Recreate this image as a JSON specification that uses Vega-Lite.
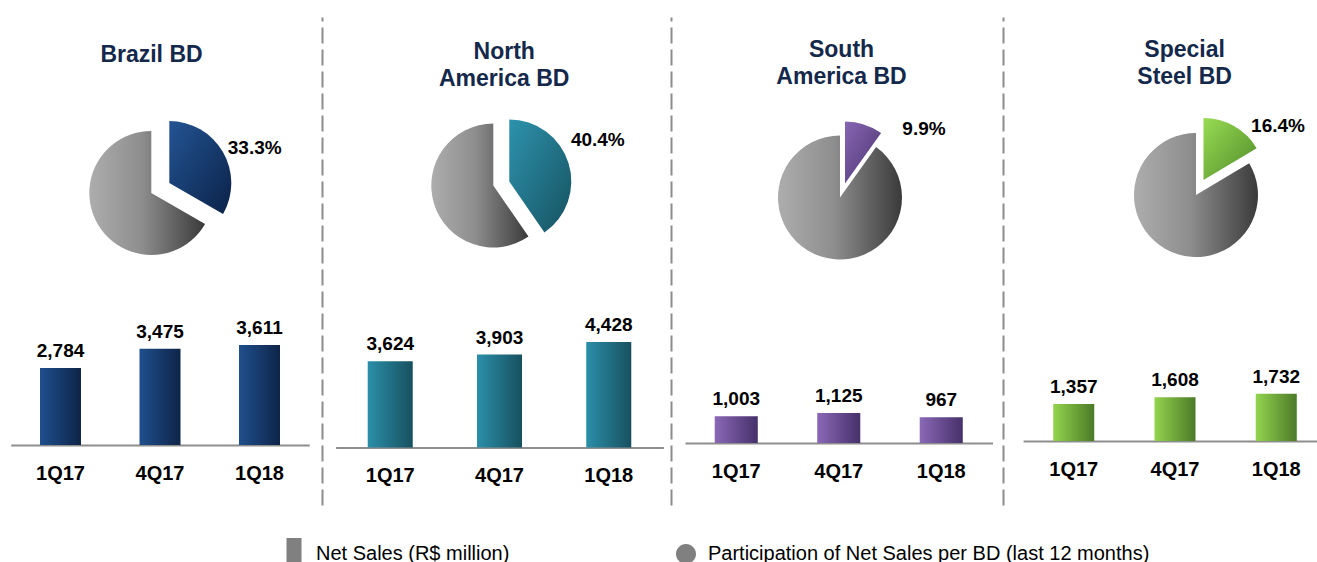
{
  "$schema": "https://vega.github.io/schema/vega-lite/v6.json",
  "padding": {"left": 0, "top": 17, "right": 0, "bottom": 0},
  "bounds": "flush",
  "spacing": 0,
  "config": {"view": {"stroke": null}, "font": "Liberation Sans"},
  "datasets": {
    "sales": [
      {"bd": "Brazil BD", "quarter": "1Q17", "sales": 2784},
      {"bd": "Brazil BD", "quarter": "4Q17", "sales": 3475},
      {"bd": "Brazil BD", "quarter": "1Q18", "sales": 3611},
      {"bd": "North America BD", "quarter": "1Q17", "sales": 3624},
      {"bd": "North America BD", "quarter": "4Q17", "sales": 3903},
      {"bd": "North America BD", "quarter": "1Q18", "sales": 4428},
      {"bd": "South America BD", "quarter": "1Q17", "sales": 1003},
      {"bd": "South America BD", "quarter": "4Q17", "sales": 1125},
      {"bd": "South America BD", "quarter": "1Q18", "sales": 967},
      {"bd": "Special Steel BD", "quarter": "1Q17", "sales": 1357},
      {"bd": "Special Steel BD", "quarter": "4Q17", "sales": 1608},
      {"bd": "Special Steel BD", "quarter": "1Q18", "sales": 1732}
    ],
    "share": [
      {"bd": "Brazil BD", "title": "Brazil BD", "share": 0.333},
      {"bd": "North America BD", "title": "North\nAmerica BD", "share": 0.404},
      {"bd": "South America BD", "title": "South\nAmerica BD", "share": 0.099},
      {"bd": "Special Steel BD", "title": "Special\nSteel BD", "share": 0.164}
    ],
    "legend": [
      {"item": "Net Sales (R$ million)"},
      {"item": "Participation of Net Sales per BD (last 12 months)"}
    ]
  },
  "hconcat": [
    {
      "width": 322, "height": 488,
      "resolve": {"scale": {"x": "independent", "y": "independent"}},
      "layer": [
        {
          "data": {"name": "sales"},
          "transform": [{"filter": "datum.bd === 'Brazil BD'"}],
          "encoding": {
            "x": {"field": "quarter", "type": "nominal", "sort": ["1Q17", "4Q17", "1Q18"],
              "scale": {"range": [10.75, 309.25], "paddingInner": 0.588, "paddingOuter": 0.294},
              "axis": {"title": null, "orient": "bottom", "offset": -60, "ticks": false, "tickSize": 0, "grid": false, "labelAngle": 0, "labelPadding": 18, "labelFontSize": 20, "labelFontWeight": "bold", "labelColor": "#000000", "labelFont": "Liberation Sans", "domainColor": "#8e8e8e", "domainWidth": 2}},
            "y": {"field": "sales", "type": "quantitative", "scale": {"domain": [-2169, 15472], "nice": false, "zero": false}, "axis": null}
          },
          "layer": [
            {"mark": {"type": "bar", "color": {"gradient": "linear", "x1": 0, "y1": 0, "x2": 1, "y2": 0, "stops": [{"offset": 0, "color": "#1f4f8d"}, {"offset": 1, "color": "#0e2448"}]}}},
            {"mark": {"type": "text", "baseline": "alphabetic", "dy": -11, "fontSize": 19, "fontWeight": "bold", "color": "#000000"},
             "encoding": {"text": {"field": "sales", "type": "quantitative", "format": ","}}}
          ]
        },
        {
          "data": {"name": "share"},
          "transform": [{"filter": "datum.bd === 'Brazil BD'"}],
          "layer": [
            {"mark": {"type": "arc", "outerRadius": 62, "color": {"gradient": "linear", "x1": 0, "y1": 0, "x2": 1, "y2": 0, "stops": [{"offset": 0, "color": "#adadad"}, {"offset": 0.45, "color": "#8e8e8e"}, {"offset": 1, "color": "#3a3a3a"}]}},
             "encoding": {
               "x": {"datum": 0.4699, "type": "quantitative", "scale": {"domain": [0, 1], "nice": false}, "axis": null},
               "y": {"datum": 0.6393, "type": "quantitative", "scale": {"domain": [0, 1], "nice": false}, "axis": null},
               "theta": {"field": "share", "type": "quantitative", "stack": null, "scale": {"domain": [0, 1]}},
               "theta2": {"datum": 1}}},
            {"mark": {"type": "arc", "outerRadius": 62, "xOffset": 18, "yOffset": -10, "color": {"gradient": "linear", "x1": 0, "y1": 0, "x2": 1, "y2": 1, "stops": [{"offset": 0, "color": "#235493"}, {"offset": 1, "color": "#0b2248"}]}},
             "encoding": {
               "x": {"datum": 0.4699, "type": "quantitative"},
               "y": {"datum": 0.6393, "type": "quantitative"},
               "theta": {"field": "share", "type": "quantitative", "stack": null},
               "theta2": {"datum": 0}}},
            {"mark": {"type": "text", "align": "center", "baseline": "middle", "fontSize": 19, "fontWeight": "bold", "color": "#000000"},
             "encoding": {
               "x": {"datum": 0.791, "type": "quantitative"},
               "y": {"datum": 0.7316, "type": "quantitative"},
               "text": {"field": "share", "type": "quantitative", "format": ".1%"}}},
            {"mark": {"type": "text", "align": "center", "baseline": "top", "lineBreak": "\n", "lineHeight": 27, "fontSize": 23, "fontWeight": "bold", "color": "#14284b"},
             "encoding": {
               "x": {"datum": 0.4705, "type": "quantitative"},
               "y": {"datum": 0.9447, "type": "quantitative"},
               "text": {"field": "title", "type": "nominal"}}}
          ]
        },
        {
          "data": {"name": "legend"},
          "mark": {"type": "point", "filled": true, "color": "#808080", "opacity": 0},
          "encoding": {
            "shape": {"field": "item", "type": "nominal",
              "scale": {"domain": ["Net Sales (R$ million)", "Participation of Net Sales per BD (last 12 months)"],
                        "range": ["M-0.375,-0.8 L0.375,-0.8 L0.375,0.8 L-0.375,0.8 Z", "M0,-0.8 L0,-0.8 M0,0.8 L0,0.8 M-0.5,0 A0.5,0.5 0 1,1 0.5,0 A0.5,0.5 0 1,1 -0.5,0 Z"]},
              "legend": {"title": null, "orient": "none", "legendX": 274, "legendY": 517, "direction": "horizontal", "symbolSize": 1600, "symbolFillColor": "#808080", "symbolStrokeWidth": 0, "symbolOpacity": 1, "labelFontSize": 20, "labelFont": "Liberation Sans", "labelColor": "#000000", "labelLimit": 1000, "labelOffset": 2, "columnPadding": 156, "padding": 0}}
          }
        }
      ]
    },
    {
      "width": 349, "height": 488,
      "resolve": {"scale": {"x": "independent", "y": "independent"}},
      "layer": [
        {
          "data": {"name": "sales"},
          "transform": [{"filter": "datum.bd === 'North America BD'"}],
          "encoding": {
            "x": {"field": "quarter", "type": "nominal", "sort": ["1Q17", "4Q17", "1Q18"],
              "scale": {"range": [13.6, 341.4], "paddingInner": 0.588, "paddingOuter": 0.294},
              "axis": {"title": null, "orient": "bottom", "offset": -57.5, "ticks": false, "tickSize": 0, "grid": false, "labelAngle": 0, "labelPadding": 18, "labelFontSize": 20, "labelFontWeight": "bold", "labelColor": "#000000", "labelFont": "Liberation Sans", "domainColor": "#8e8e8e", "domainWidth": 2}},
            "y": {"field": "sales", "type": "quantitative", "scale": {"domain": [-2415, 18081], "nice": false, "zero": false},
              "axis": {"orient": "left", "title": null, "labels": false, "ticks": false, "grid": false, "domainDash": [16, 6], "domainColor": "#8c8c8c", "domainWidth": 2}}
          },
          "layer": [
            {"mark": {"type": "bar", "color": {"gradient": "linear", "x1": 0, "y1": 0, "x2": 1, "y2": 0, "stops": [{"offset": 0, "color": "#2b8fa9"}, {"offset": 1, "color": "#17505f"}]}}},
            {"mark": {"type": "text", "baseline": "alphabetic", "dy": -11, "fontSize": 19, "fontWeight": "bold", "color": "#000000"},
             "encoding": {"text": {"field": "sales", "type": "quantitative", "format": ","}}}
          ]
        },
        {
          "data": {"name": "share"},
          "transform": [{"filter": "datum.bd === 'North America BD'"}],
          "layer": [
            {"mark": {"type": "arc", "outerRadius": 62, "color": {"gradient": "linear", "x1": 0, "y1": 0, "x2": 1, "y2": 0, "stops": [{"offset": 0, "color": "#adadad"}, {"offset": 0.45, "color": "#8e8e8e"}, {"offset": 1, "color": "#3a3a3a"}]}},
             "encoding": {
               "x": {"datum": 0.4908, "type": "quantitative", "scale": {"domain": [0, 1], "nice": false}, "axis": null},
               "y": {"datum": 0.6547, "type": "quantitative", "scale": {"domain": [0, 1], "nice": false}, "axis": null},
               "theta": {"field": "share", "type": "quantitative", "stack": null, "scale": {"domain": [0, 1]}},
               "theta2": {"datum": 1}}},
            {"mark": {"type": "arc", "outerRadius": 62, "xOffset": 16, "yOffset": -4, "color": {"gradient": "linear", "x1": 0, "y1": 0, "x2": 1, "y2": 1, "stops": [{"offset": 0, "color": "#2d92ad"}, {"offset": 1, "color": "#165260"}]}},
             "encoding": {
               "x": {"datum": 0.4908, "type": "quantitative"},
               "y": {"datum": 0.6547, "type": "quantitative"},
               "theta": {"field": "share", "type": "quantitative", "stack": null},
               "theta2": {"datum": 0}}},
            {"mark": {"type": "text", "align": "center", "baseline": "middle", "fontSize": 19, "fontWeight": "bold", "color": "#000000"},
             "encoding": {
               "x": {"datum": 0.7903, "type": "quantitative"},
               "y": {"datum": 0.748, "type": "quantitative"},
               "text": {"field": "share", "type": "quantitative", "format": ".1%"}}},
            {"mark": {"type": "text", "align": "center", "baseline": "top", "lineBreak": "\n", "lineHeight": 27, "fontSize": 23, "fontWeight": "bold", "color": "#14284b"},
             "encoding": {
               "x": {"datum": 0.522, "type": "quantitative"},
               "y": {"datum": 0.9508, "type": "quantitative"},
               "text": {"field": "title", "type": "nominal"}}}
          ]
        }
      ]
    },
    {
      "width": 332, "height": 488,
      "resolve": {"scale": {"x": "independent", "y": "independent"}},
      "layer": [
        {
          "data": {"name": "sales"},
          "transform": [{"filter": "datum.bd === 'South America BD'"}],
          "encoding": {
            "x": {"field": "quarter", "type": "nominal", "sort": ["1Q17", "4Q17", "1Q18"],
              "scale": {"range": [14, 321.5], "paddingInner": 0.58, "paddingOuter": 0.29},
              "axis": {"title": null, "orient": "bottom", "offset": -62, "ticks": false, "tickSize": 0, "grid": false, "labelAngle": 0, "labelPadding": 18, "labelFontSize": 20, "labelFontWeight": "bold", "labelColor": "#000000", "labelFont": "Liberation Sans", "domainColor": "#8e8e8e", "domainWidth": 2}},
            "y": {"field": "sales", "type": "quantitative", "scale": {"domain": [-2319, 15932], "nice": false, "zero": false},
              "axis": {"orient": "left", "title": null, "labels": false, "ticks": false, "grid": false, "domainDash": [16, 6], "domainColor": "#8c8c8c", "domainWidth": 2}}
          },
          "layer": [
            {"mark": {"type": "bar", "color": {"gradient": "linear", "x1": 0, "y1": 0, "x2": 1, "y2": 0, "stops": [{"offset": 0, "color": "#8a68b6"}, {"offset": 1, "color": "#46306a"}]}}},
            {"mark": {"type": "text", "baseline": "alphabetic", "dy": -11, "fontSize": 19, "fontWeight": "bold", "color": "#000000"},
             "encoding": {"text": {"field": "sales", "type": "quantitative", "format": ","}}}
          ]
        },
        {
          "data": {"name": "share"},
          "transform": [{"filter": "datum.bd === 'South America BD'"}],
          "layer": [
            {"mark": {"type": "arc", "outerRadius": 62, "color": {"gradient": "linear", "x1": 0, "y1": 0, "x2": 1, "y2": 0, "stops": [{"offset": 0, "color": "#adadad"}, {"offset": 0.45, "color": "#8e8e8e"}, {"offset": 1, "color": "#3a3a3a"}]}},
             "encoding": {
               "x": {"datum": 0.509, "type": "quantitative", "scale": {"domain": [0, 1], "nice": false}, "axis": null},
               "y": {"datum": 0.6301, "type": "quantitative", "scale": {"domain": [0, 1], "nice": false}, "axis": null},
               "theta": {"field": "share", "type": "quantitative", "stack": null, "scale": {"domain": [0, 1]}},
               "theta2": {"datum": 1}}},
            {"mark": {"type": "arc", "outerRadius": 62, "xOffset": 5, "yOffset": -14, "color": {"gradient": "linear", "x1": 0, "y1": 0, "x2": 1, "y2": 1, "stops": [{"offset": 0, "color": "#8766b3"}, {"offset": 1, "color": "#4a336d"}]}},
             "encoding": {
               "x": {"datum": 0.509, "type": "quantitative"},
               "y": {"datum": 0.6301, "type": "quantitative"},
               "theta": {"field": "share", "type": "quantitative", "stack": null},
               "theta2": {"datum": 0}}},
            {"mark": {"type": "text", "align": "center", "baseline": "middle", "fontSize": 19, "fontWeight": "bold", "color": "#000000"},
             "encoding": {
               "x": {"datum": 0.762, "type": "quantitative"},
               "y": {"datum": 0.7705, "type": "quantitative"},
               "text": {"field": "share", "type": "quantitative", "format": ".1%"}}},
            {"mark": {"type": "text", "align": "center", "baseline": "top", "lineBreak": "\n", "lineHeight": 27, "fontSize": 23, "fontWeight": "bold", "color": "#14284b"},
             "encoding": {
               "x": {"datum": 0.5136, "type": "quantitative"},
               "y": {"datum": 0.9549, "type": "quantitative"},
               "text": {"field": "title", "type": "nominal"}}}
          ]
        }
      ]
    },
    {
      "width": 314, "height": 488,
      "resolve": {"scale": {"x": "independent", "y": "independent"}},
      "layer": [
        {
          "data": {"name": "sales"},
          "transform": [{"filter": "datum.bd === 'Special Steel BD'"}],
          "encoding": {
            "x": {"field": "quarter", "type": "nominal", "sort": ["1Q17", "4Q17", "1Q18"],
              "scale": {"range": [20.1, 323.9], "paddingInner": 0.595, "paddingOuter": 0.2975},
              "axis": {"title": null, "orient": "bottom", "offset": -64, "ticks": false, "tickSize": 0, "grid": false, "labelAngle": 0, "labelPadding": 18, "labelFontSize": 20, "labelFontWeight": "bold", "labelColor": "#000000", "labelFont": "Liberation Sans", "domainColor": "#8e8e8e", "domainWidth": 2}},
            "y": {"field": "sales", "type": "quantitative", "scale": {"domain": [-2349, 15561], "nice": false, "zero": false},
              "axis": {"orient": "left", "title": null, "labels": false, "ticks": false, "grid": false, "domainDash": [16, 6], "domainColor": "#8c8c8c", "domainWidth": 2}}
          },
          "layer": [
            {"mark": {"type": "bar", "color": {"gradient": "linear", "x1": 0, "y1": 0, "x2": 1, "y2": 0, "stops": [{"offset": 0, "color": "#93d44e"}, {"offset": 1, "color": "#4b7a27"}]}}},
            {"mark": {"type": "text", "baseline": "alphabetic", "dy": -11, "fontSize": 19, "fontWeight": "bold", "color": "#000000"},
             "encoding": {"text": {"field": "sales", "type": "quantitative", "format": ","}}}
          ]
        },
        {
          "data": {"name": "share"},
          "transform": [{"filter": "datum.bd === 'Special Steel BD'"}],
          "layer": [
            {"mark": {"type": "arc", "outerRadius": 62, "color": {"gradient": "linear", "x1": 0, "y1": 0, "x2": 1, "y2": 0, "stops": [{"offset": 0, "color": "#adadad"}, {"offset": 0.45, "color": "#8e8e8e"}, {"offset": 1, "color": "#3a3a3a"}]}},
             "encoding": {
               "x": {"datum": 0.6146, "type": "quantitative", "scale": {"domain": [0, 1], "nice": false}, "axis": null},
               "y": {"datum": 0.6352, "type": "quantitative", "scale": {"domain": [0, 1], "nice": false}, "axis": null},
               "theta": {"field": "share", "type": "quantitative", "stack": null, "scale": {"domain": [0, 1]}},
               "theta2": {"datum": 1}}},
            {"mark": {"type": "arc", "outerRadius": 62, "xOffset": 7.5, "yOffset": -15, "color": {"gradient": "linear", "x1": 0, "y1": 0, "x2": 1, "y2": 1, "stops": [{"offset": 0, "color": "#98dc52"}, {"offset": 1, "color": "#4f8a2a"}]}},
             "encoding": {
               "x": {"datum": 0.6146, "type": "quantitative"},
               "y": {"datum": 0.6352, "type": "quantitative"},
               "theta": {"field": "share", "type": "quantitative", "stack": null},
               "theta2": {"datum": 0}}},
            {"mark": {"type": "text", "align": "center", "baseline": "middle", "fontSize": 19, "fontWeight": "bold", "color": "#000000"},
             "encoding": {
               "x": {"datum": 0.8758, "type": "quantitative"},
               "y": {"datum": 0.7766, "type": "quantitative"},
               "text": {"field": "share", "type": "quantitative", "format": ".1%"}}},
            {"mark": {"type": "text", "align": "center", "baseline": "top", "lineBreak": "\n", "lineHeight": 27, "fontSize": 23, "fontWeight": "bold", "color": "#14284b"},
             "encoding": {
               "x": {"datum": 0.5783, "type": "quantitative"},
               "y": {"datum": 0.9549, "type": "quantitative"},
               "text": {"field": "title", "type": "nominal"}}}
          ]
        }
      ]
    }
  ]
}
